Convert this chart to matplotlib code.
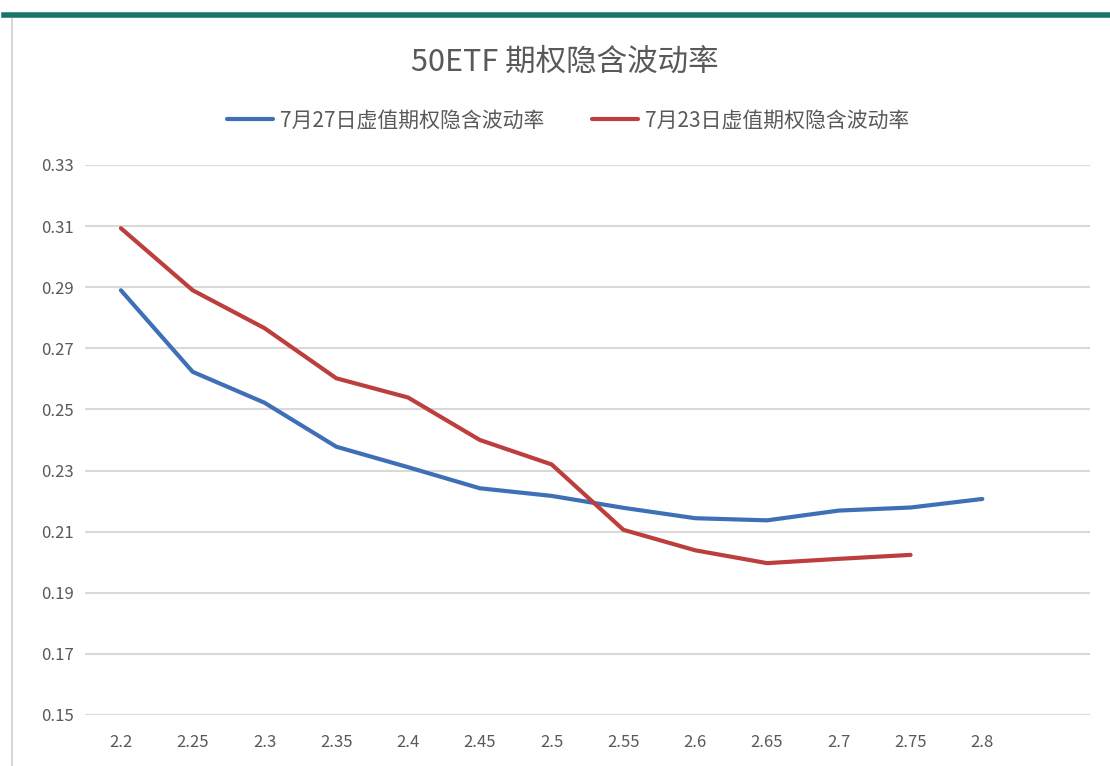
import numpy as np
import matplotlib.pyplot as plt
from matplotlib.lines import Line2D

plt.rcParams['font.family'] = ['Noto Sans CJK SC', 'DejaVu Sans']

#%% Data
strikes = ['2.2', '2.25', '2.3', '2.35', '2.4', '2.45', '2.5',
           '2.55', '2.6', '2.65', '2.7', '2.75', '2.8']
iv_0727 = [0.289, 0.2623, 0.2522, 0.2378, 0.2311, 0.2242, 0.2217,
           0.2178, 0.2144, 0.2137, 0.2169, 0.2179, 0.2207]
iv_0723 = [0.3093, 0.289, 0.2766, 0.2602, 0.2539, 0.24, 0.232,
           0.2106, 0.2039, 0.1997, 0.2011, 0.2024]
label_0727 = '7月27日虚值期权隐含波动率'
label_0723 = '7月23日虚值期权隐含波动率'
yticks = [0.15, 0.17, 0.19, 0.21, 0.23, 0.25, 0.27, 0.29, 0.31, 0.33]

blue = '#3F6FB6'
red = '#BC3F3D'
grey_text = '#595959'

#%% Figure
fig = plt.figure(figsize=(11.1, 7.66), dpi=100)
ax = fig.add_axes([0.0766, 0.0666, 0.9054, 0.718])

# frame lines around the chart (teal top band, light left border)
fig.add_artist(Line2D([0.004, 1.0], [0.980, 0.980], color='#17756E', lw=4,
                      transform=fig.transFigure))
fig.add_artist(Line2D([0.011, 0.011], [0.0, 0.975], color='#D0D0D0', lw=1.2,
                      transform=fig.transFigure))

x = np.arange(len(strikes))
ax.plot(x, iv_0727, color=blue, lw=3, label=label_0727, solid_capstyle='round')
ax.plot(x[:len(iv_0723)], iv_0723, color=red, lw=3, label=label_0723,
        solid_capstyle='round')

ax.set_xlim(-0.5, len(strikes) + 0.5)
ax.set_ylim(0.15, 0.33)
ax.set_xticks(x)
ax.set_xticklabels(strikes)
ax.set_yticks(yticks)
ax.set_yticklabels([f'{v:.2f}' for v in yticks])
ax.tick_params(length=0, labelsize=12, colors=grey_text, pad=14)
ax.tick_params(axis='y', pad=8)
for s in ax.spines.values():
    s.set_visible(False)
ax.grid(axis='y', color='#D9D9D9', lw=1.5)
ax.set_axisbelow(True)

fig.text(0.509, 0.919, '50ETF 期权隐含波动率', ha='center', va='center',
         fontsize=22, color=grey_text)
fig.legend(loc='center', bbox_to_anchor=(0.512, 0.843), ncol=2, frameon=False,
           fontsize=15, labelcolor=grey_text, handlelength=2.2,
           columnspacing=2.3, handletextpad=0.35)

plt.savefig('out.png', dpi=100)
